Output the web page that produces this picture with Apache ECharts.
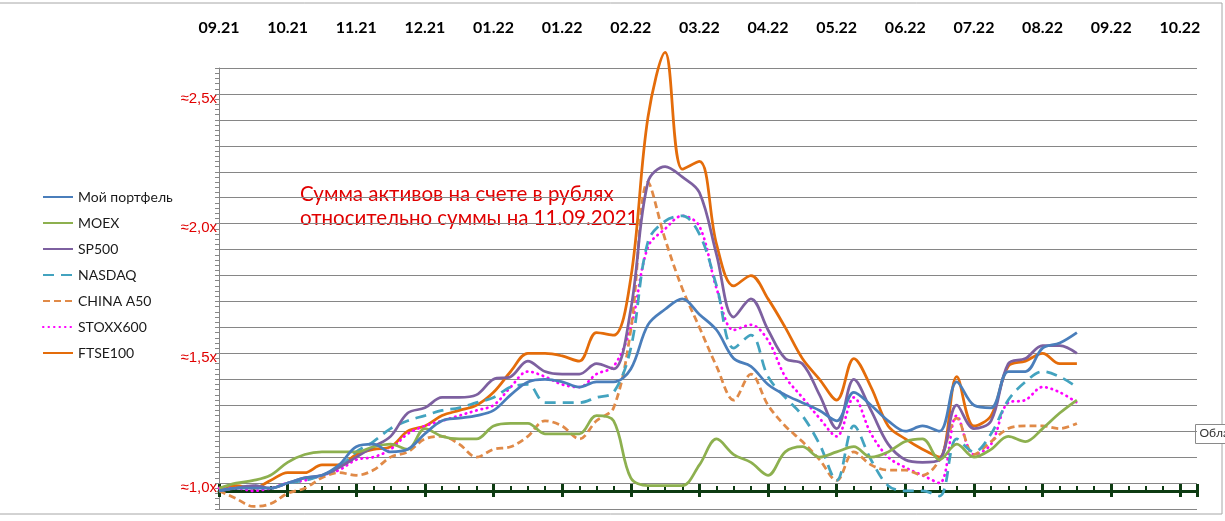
<!DOCTYPE html>
<html>
<head>
<meta charset="utf-8">
<script src="https://cdn.jsdelivr.net/npm/echarts@6/dist/echarts.min.js"></script>
<style>
  html, body { margin: 0; padding: 0; background: #fff; }
  #chart { width: 1225px; height: 521px; }
</style>
</head>
<body>
<div id="chart"></div>
<script>
// подписи недель: каждые 4 недели начиная с 11.09.2021
const monthLabels = ['09.21', '10.21', '11.21', '12.21', '01.22', '01.22', '02.22', '03.22',
  '04.22', '05.22', '06.22', '07.22', '08.22', '09.22', '10.22'];
const yTickValues = [1.0, 1.5, 2.0, 2.5];
const yTickLabels = ['≈1,0x', '≈1,5x', '≈2,0x', '≈2,5x'];
const noteLines = ['Сумма активов на счете в рублях', 'относительно суммы на 11.09.2021'];

// значения по неделям (0..50), относительно 11.09.2021
const myPortfolio = [0.97, 0.98, 0.98, 0.98, 1.00, 1.02, 1.03, 1.07, 1.14, 1.15, 1.12, 1.13, 1.19, 1.24, 1.25, 1.26, 1.28,
  1.34, 1.39, 1.40, 1.39, 1.37, 1.39, 1.39, 1.44, 1.61, 1.67, 1.71, 1.65, 1.59, 1.48, 1.45, 1.38, 1.34, 1.31, 1.28,
  1.24, 1.35, 1.30, 1.24, 1.20, 1.22, 1.20, 1.39, 1.30, 1.29, 1.43, 1.43, 1.52, 1.54, 1.58];
const moex = [0.98, 1.00, 1.01, 1.03, 1.08, 1.11, 1.12, 1.12, 1.12, 1.14, 1.15, 1.13, 1.21, 1.18, 1.17, 1.17, 1.22,
  1.23, 1.23, 1.19, 1.19, 1.19, 1.26, 1.24, 1.02, 0.99, 0.99, 0.99, 1.07, 1.17, 1.11, 1.08, 1.03, 1.12, 1.14, 1.10,
  1.12, 1.14, 1.10, 1.12, 1.16, 1.17, 1.09, 1.15, 1.10, 1.13, 1.18, 1.16, 1.21, 1.27, 1.32];
const sp500 = [0.97, 0.98, 0.99, 0.98, 1.00, 1.02, 1.03, 1.06, 1.10, 1.14, 1.18, 1.27, 1.29, 1.33, 1.33, 1.34, 1.40,
  1.41, 1.47, 1.43, 1.42, 1.42, 1.46, 1.44, 1.67, 2.16, 2.22, 2.18, 2.12, 1.88, 1.64, 1.71, 1.59, 1.48, 1.46, 1.34,
  1.21, 1.40, 1.28, 1.15, 1.09, 1.08, 1.09, 1.30, 1.21, 1.24, 1.46, 1.48, 1.53, 1.53, 1.50];
const nasdaq = [0.97, 0.98, 0.99, 0.98, 1.00, 1.01, 1.03, 1.06, 1.12, 1.16, 1.21, 1.24, 1.26, 1.28, 1.29, 1.31, 1.33,
  1.37, 1.38, 1.31, 1.31, 1.31, 1.33, 1.35, 1.52, 1.93, 2.01, 2.03, 1.96, 1.76, 1.52, 1.57, 1.41, 1.33, 1.26, 1.15,
  1.01, 1.22, 1.09, 0.99, 0.97, 0.97, 0.95, 1.17, 1.12, 1.19, 1.32, 1.39, 1.43, 1.41, 1.37];
const chinaA50 = [0.97, 0.94, 0.91, 0.92, 0.96, 0.98, 1.02, 1.04, 1.03, 1.05, 1.10, 1.12, 1.17, 1.18, 1.15, 1.10, 1.13,
  1.14, 1.18, 1.24, 1.22, 1.17, 1.24, 1.29, 1.59, 2.16, 1.94, 1.75, 1.60, 1.45, 1.32, 1.42, 1.30, 1.22, 1.16, 1.09,
  1.01, 1.12, 1.07, 1.05, 1.05, 1.03, 1.09, 1.25, 1.11, 1.16, 1.21, 1.22, 1.22, 1.21, 1.23];
const stoxx600 = [0.98, 0.98, 0.97, 0.98, 1.00, 1.01, 1.03, 1.05, 1.09, 1.10, 1.13, 1.19, 1.22, 1.24, 1.26, 1.28, 1.30,
  1.37, 1.43, 1.41, 1.38, 1.37, 1.42, 1.45, 1.60, 1.91, 1.98, 2.03, 1.99, 1.75, 1.59, 1.61, 1.55, 1.41, 1.33, 1.25,
  1.18, 1.33, 1.19, 1.10, 1.06, 1.03, 1.00, 1.26, 1.11, 1.15, 1.31, 1.32, 1.37, 1.35, 1.31];
const ftse100 = [0.98, 0.99, 0.98, 1.01, 1.04, 1.04, 1.07, 1.07, 1.11, 1.13, 1.14, 1.20, 1.22, 1.26, 1.28, 1.30, 1.35,
  1.43, 1.50, 1.50, 1.49, 1.47, 1.58, 1.57, 1.79, 2.41, 2.66, 2.21, 2.24, 1.92, 1.76, 1.80, 1.71, 1.60, 1.48, 1.40,
  1.32, 1.48, 1.37, 1.22, 1.17, 1.13, 1.10, 1.41, 1.22, 1.26, 1.45, 1.47, 1.50, 1.46, 1.46];

const seriesNames = ['Мой портфель', 'MOEX', 'SP500', 'NASDAQ', 'CHINA A50', 'STOXX600', 'FTSE100'];
const seriesValues = [myPortfolio, moex, sp500, nasdaq, chinaA50, stoxx600, ftse100];
const seriesColors = ['#4a7ebb', '#8db04f', '#7d60a0', '#43a3bf', '#e08a48', '#ff00ff', '#e46c0a'];
const seriesDash = ['solid', 'solid', 'solid', [11, 7], [7, 4], [0.5, 5], 'solid'];

const FONT = 'Lato, "Open Sans", sans-serif';
const WEEKS_MAX = 57;
const axisGreen = '#0d3b12';
const gridGray = '#868686';

const chart = echarts.init(document.getElementById('chart'), null, { renderer: 'canvas' });

function baseX(extra) {
  return Object.assign({
    type: 'value',
    min: 0,
    max: WEEKS_MAX,
    splitLine: { show: false },
    axisLabel: { show: false }
  }, extra);
}

const option = {
  animation: false,
  backgroundColor: '#fff',
  grid: { left: 219, right: 28, top: 68, bottom: 12, outerBoundsMode: 'none' },
  legend: {
    orient: 'vertical',
    left: 42,
    top: 190,
    padding: 0,
    itemWidth: 30,
    itemHeight: 14,
    itemGap: 12,
    itemStyle: { opacity: 0 },
    textStyle: { fontFamily: FONT, fontSize: 14, color: '#1a1a1a' },
    data: seriesNames
  },
  xAxis: [
    // верхняя ось с подписями месяцев
    baseX({
      position: 'top',
      interval: 4,
      axisLine: { show: false },
      axisTick: { show: false },
      axisLabel: {
        show: true,
        margin: 32,
        fontFamily: FONT,
        fontSize: 16,
        fontWeight: 'bold',
        color: '#000',
        formatter: v => (v % 4 === 0 && monthLabels[v / 4]) || ''
      }
    }),
    // зелёная ось: недельные засечки
    baseX({
      position: 'bottom',
      offset: -18,
      interval: 1,
      axisLine: { show: true, lineStyle: { color: axisGreen, width: 3 } },
      axisTick: { show: true, inside: true, length: 5, lineStyle: { color: axisGreen, width: 2 } }
    }),
    // крупные засечки вверх
    baseX({
      position: 'bottom',
      offset: -18,
      interval: 4,
      axisLine: { show: false },
      axisTick: { show: true, inside: true, length: 7, lineStyle: { color: axisGreen, width: 3 } }
    }),
    // крупные засечки вниз
    baseX({
      position: 'bottom',
      offset: -18,
      interval: 4,
      axisLine: { show: false },
      axisTick: { show: true, inside: false, length: 6, lineStyle: { color: axisGreen, width: 3 } }
    })
  ],
  yAxis: {
    type: 'value',
    min: 0.9,
    max: 2.6,
    interval: 0.1,
    axisLine: { show: true, lineStyle: { color: gridGray, width: 1 } },
    axisTick: { show: true, length: 4, lineStyle: { color: gridGray } },
    minorTick: { show: true, splitNumber: 5, length: 4, lineStyle: { color: gridGray } },
    splitLine: { show: true, lineStyle: { color: gridGray, width: 1 } },
    axisLabel: {
      margin: 2,
      fontFamily: '"Liberation Sans", Arial, sans-serif',
      fontSize: 15,
      color: '#e00000',
      verticalAlign: 'top',
      padding: [-3, 0, 0, 0],
      formatter: v => {
        const i = yTickValues.findIndex(t => Math.abs(t - v) < 1e-6);
        return i >= 0 ? yTickLabels[i] : '';
      }
    }
  },
  graphic: [
    {
      type: 'rect',
      silent: true,
      shape: { x: -2, y: 3, width: 1224, height: 511 },
      style: { fill: null, stroke: '#a6a6a6', lineWidth: 1 }
    },
    {
      type: 'text',
      left: 300,
      top: 182,
      style: {
        text: noteLines.join('\n'),
        fontFamily: FONT,
        fontSize: 20.5,
        lineHeight: 24,
        fill: '#e00000'
      }
    },
    {
      type: 'group',
      left: 1195,
      top: 424,
      children: [
        { type: 'rect', shape: { x: 0, y: 0, width: 44, height: 19 }, style: { fill: '#fff', stroke: '#8a8a8a' } },
        { type: 'text', x: 4, y: 3, style: { text: 'Обла', fontFamily: FONT, fontSize: 12, fill: '#333' } }
      ]
    }
  ],
  series: seriesNames.map((name, k) => ({
    name,
    type: 'line',
    xAxisIndex: 0,
    smooth: 0.35,
    symbol: 'none',
    clip: false,
    data: seriesValues[k].map((v, i) => [i, v]),
    itemStyle: { color: seriesColors[k] },
    lineStyle: {
      color: seriesColors[k],
      width: 2.75,
      type: seriesDash[k],
      cap: k === 5 ? 'round' : 'butt'
    },
    z: 10 - k
  }))
};

chart.setOption(option);
</script>
</body>
</html>
